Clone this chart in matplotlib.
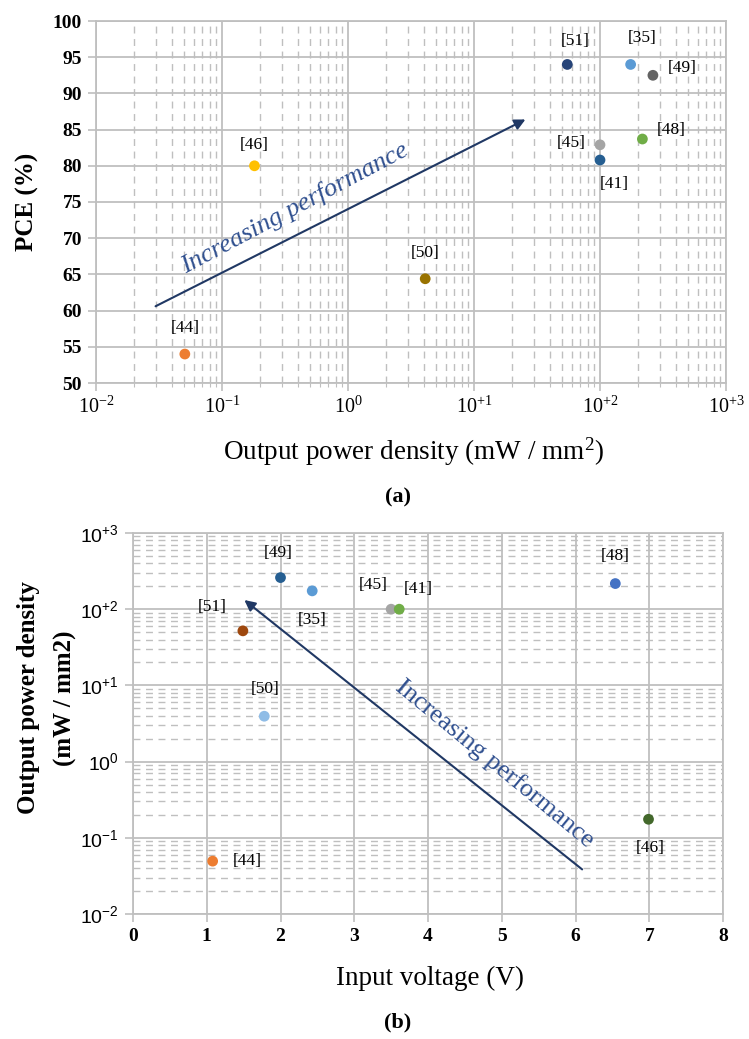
import matplotlib
matplotlib.use("Agg")
import matplotlib.pyplot as plt
from matplotlib.ticker import FixedLocator, NullFormatter

plt.rcParams['font.family'] = ['Liberation Serif', 'DejaVu Serif']

# ---- panel (a): PCE vs output power density ----
refs_a = ["[51]", "[35]", "[49]", "[48]", "[45]", "[41]", "[46]", "[50]", "[44]"]
pd_a = [55, 175, 263, 217, 100, 100, 0.181, 4.1, 0.0507]
pce_a = [94, 94, 92.5, 83.7, 82.9, 80.8, 80, 64.4, 54]
col_a = ["#264478", "#5B9BD5", "#636363", "#70AD47", "#A5A5A5", "#255E91", "#FFC000", "#997300", "#ED7D31"]
lab_x_a = [64, 217, 449, 366, 58.7, 129, 0.181, 4.1, 0.0507]
lab_y_a = [97.3, 97.6, 93.5, 84.9, 83.1, 77.5, 82.9, 68.0, 57.6]
arrow_a = [(0.0297, 60.6), (25.6, 86.4)]

# ---- panel (b): output power density vs input voltage ----
refs_b = ["[49]", "[35]", "[51]", "[45]", "[41]", "[48]", "[50]", "[46]", "[44]"]
v_b = [2.0, 2.43, 1.49, 3.5, 3.61, 6.54, 1.78, 6.99, 1.08]
pd_b = [260, 174, 52, 100, 100, 217, 3.94, 0.175, 0.0494]
col_b = ["#255E91", "#5B9BD5", "#9E480E", "#A5A5A5", "#70AD47", "#4472C4", "#8FBCE6", "#43682B", "#ED7D31"]
lab_x_b = [1.97, 2.43, 1.07, 3.26, 3.87, 6.54, 1.79, 7.01, 1.55]
lab_y_b = [545, 72, 108, 208, 185, 492, 8.85, 0.0738, 0.05]
arrow_b = [(6.09, 0.0385), (1.51, 132)]

GRID = "#BFBFBF"
ARROW = "#203864"
TXT = "#2F4F8F"
W, H = 749, 1039
fig = plt.figure(figsize=(W / 100, H / 100), dpi=100)

def px(l, t, r, b):
    return [l / W, 1 - b / H, (r - l) / W, (b - t) / H]

# ---------- (a) ----------
ax = fig.add_axes(px(96, 21, 726, 383))
ax.set_xscale("log")
ax.set_xlim(1e-2, 1e3)
ax.set_ylim(50, 100)
ax.set_yticks(range(50, 101, 5))
xt = [1e-2, 1e-1, 1, 10, 100, 1000]
ax.set_xticks(xt)
ax.set_xticklabels([r"$\mathregular{10^{-2}}$", r"$\mathregular{10^{-1}}$", r"$\mathregular{10^{0}}$",
                    r"$\mathregular{10^{+1}}$", r"$\mathregular{10^{+2}}$", r"$\mathregular{10^{+3}}$"], fontsize=14.5)
minors = [m * 10.0 ** e for e in range(-2, 3) for m in range(2, 10)]
ax.xaxis.set_minor_locator(FixedLocator(minors))
ax.xaxis.set_minor_formatter(NullFormatter())
for lb in ax.get_yticklabels():
    lb.set_fontsize(14); lb.set_fontweight("bold")
ax.grid(True, which="major", color=GRID, lw=1.3, ls="-")
ax.grid(True, which="minor", axis="x", color=GRID, lw=1.0, ls=(0, (5, 4)))
ax.set_axisbelow(True)
for sp in ax.spines.values():
    sp.set_color(GRID); sp.set_linewidth(1.3)
ax.tick_params(which="major", color=GRID, length=6, width=1.2, pad=4)
ax.tick_params(which="minor", color=GRID, length=3, width=0.8)
ax.scatter(pd_a, pce_a, s=60, c=col_a, zorder=3, linewidths=0)
for r, x, y in zip(refs_a, lab_x_a, lab_y_a):
    ax.text(x, y, r, ha="center", va="center", fontsize=12.5, zorder=4)
ax.annotate("", xy=arrow_a[1], xytext=arrow_a[0],
            arrowprops=dict(arrowstyle="-|>", color=ARROW, lw=1.5, mutation_scale=16, shrinkA=0, shrinkB=0))
ax.text(0.38, 74.1, "Increasing performance", rotation=28, rotation_mode="anchor",
        ha="center", va="center", fontsize=19, style="italic", color=TXT)

fig.text(27 / W, 1 - 202 / H, "PCE (%)", rotation=90, ha="center", va="center", fontsize=18, fontweight="bold")
fig.text(413 / W, 1 - 452 / H, "Output power density (mW / mm$\\mathregular{^2}$)", ha="center", va="center", fontsize=19.5)
fig.text(398 / W, 1 - 497 / H, "(a)", ha="center", va="center", fontsize=16, fontweight="bold")

# ---------- (b) ----------
bx = fig.add_axes(px(133, 533, 723, 914))
bx.set_yscale("log")
bx.set_xlim(0, 8)
bx.set_ylim(1e-2, 1e3)
bx.set_xticks(range(0, 9))
for lb in bx.get_xticklabels():
    lb.set_fontsize(14); lb.set_fontweight("bold")
yt = [1e-2, 1e-1, 1, 10, 100, 1000]
bx.set_yticks(yt)
bx.set_yticklabels([r"$\mathregular{10^{-2}}$", r"$\mathregular{10^{-1}}$", r"$\mathregular{10^{0}}$",
                    r"$\mathregular{10^{+1}}$", r"$\mathregular{10^{+2}}$", r"$\mathregular{10^{+3}}$"],
                   fontsize=14, family=["Liberation Sans", "DejaVu Sans"])
bx.yaxis.set_minor_locator(FixedLocator(minors))
bx.yaxis.set_minor_formatter(NullFormatter())
bx.grid(True, which="major", color=GRID, lw=1.3, ls="-")
bx.grid(True, which="minor", axis="y", color=GRID, lw=1.0, ls=(0, (5, 4)))
bx.set_axisbelow(True)
for sp in bx.spines.values():
    sp.set_color(GRID); sp.set_linewidth(1.3)
bx.tick_params(which="major", color=GRID, length=6, width=1.2, pad=4)
bx.tick_params(which="minor", length=0)
bx.scatter(v_b, pd_b, s=60, c=col_b, zorder=3, linewidths=0)
for r, x, y in zip(refs_b, lab_x_b, lab_y_b):
    bx.text(x, y, r, ha="center", va="center", fontsize=12.5, zorder=4)
bx.annotate("", xy=arrow_b[1], xytext=arrow_b[0],
            arrowprops=dict(arrowstyle="-|>", color=ARROW, lw=1.5, mutation_scale=16, shrinkA=0, shrinkB=0))
bx.text(4.91, 0.95, "Increasing performance", rotation=-39.5, rotation_mode="anchor",
        ha="center", va="center", fontsize=19, color=TXT)

fig.text(29 / W, 1 - 698 / H, "Output power density", rotation=90, ha="center", va="center", fontsize=18, fontweight="bold")
fig.text(65 / W, 1 - 698 / H, "(mW / mm2)", rotation=90, ha="center", va="center", fontsize=18, fontweight="bold")
fig.text(430 / W, 1 - 978 / H, "Input voltage (V)", ha="center", va="center", fontsize=19.5)
fig.text(398 / W, 1 - 1022 / H, "(b)", ha="center", va="center", fontsize=16, fontweight="bold")

fig.savefig("out.png", dpi=100)
